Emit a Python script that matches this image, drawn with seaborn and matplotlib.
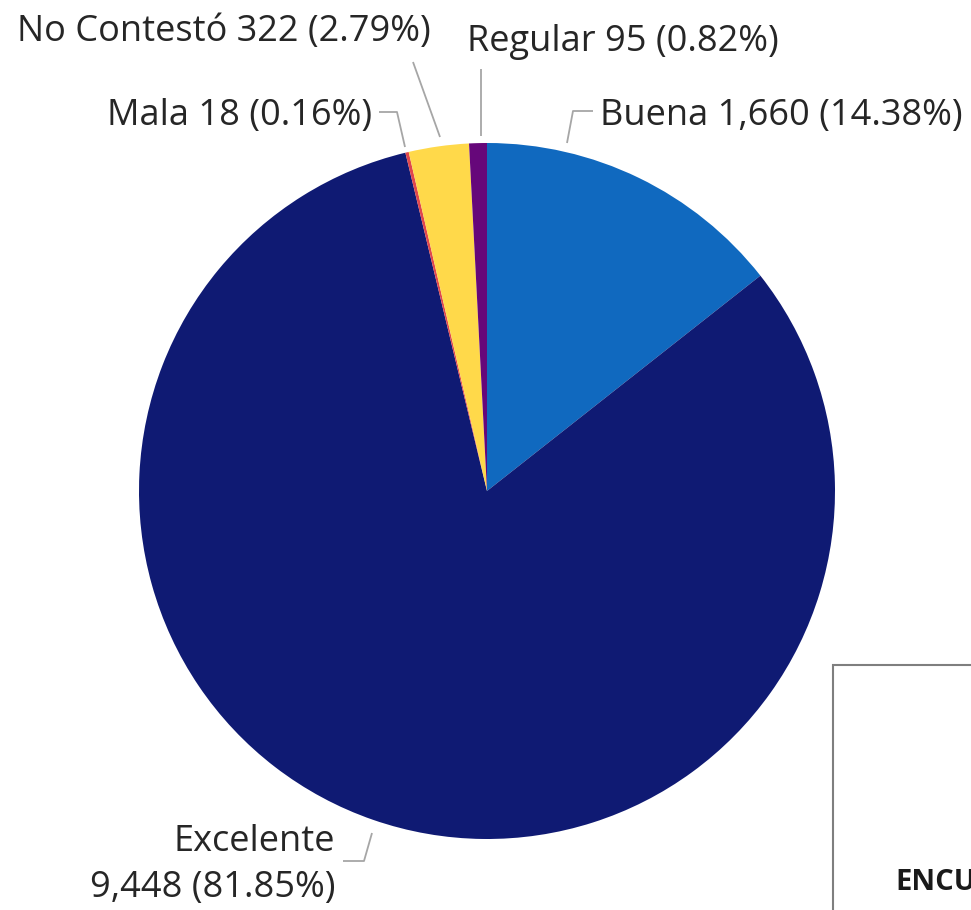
import matplotlib
matplotlib.use('Agg')
import numpy as np
import matplotlib.pyplot as plt
import seaborn as sns
from matplotlib.patches import Rectangle

sns.set_style('white')
plt.rcParams['font.family'] = ['Open Sans', 'DejaVu Sans']

# datos
categorias = ['Buena', 'Excelente', 'Mala', 'No Contestó', 'Regular']
valores = [1660, 9448, 18, 322, 95]
colores = ['#1069BF', '#0F1A73', '#E0474C', '#FFD94A', '#66077A']

total = sum(valores)
pcts = [v / total * 100 for v in valores]

W, H = 971, 910
cx, cy, R = 487, 491, 348   # centro y radio del pastel en px


def px(x, y):
    # px de la imagen -> coordenadas de datos (radio = 1)
    return (x - cx) / R, (cy - y) / R


fig = plt.figure(figsize=(W / 100, H / 100), dpi=100)
ax = fig.add_axes([0, 0, 1, 1])
ax.pie(valores, colors=colores, startangle=90, counterclock=False,
       radius=1, wedgeprops={'linewidth': 0})
ax.set_xlim(px(0, 0)[0], px(W, 0)[0])
ax.set_ylim(px(0, H)[1], px(0, 0)[1])
ax.set_aspect('equal')
ax.axis('off')

# etiquetas: posicion (px), alineacion, linea guia (px)
etiquetas = {
    'Buena': ((600, 116), 'left', [(567, 143), (573, 111), (593, 111)]),
    'Excelente': ((335, 865), 'right', [(372, 833), (364, 861), (343, 861)]),
    'Mala': ((372, 116), 'right', [(405, 147), (397, 112), (379, 112)]),
    'No Contestó': ((431, 32), 'right', [(440, 137), (413, 62)]),
    'Regular': ((467, 42), 'left', [(481, 136), (481, 69)]),
}

for cat, val, pct in zip(categorias, valores, pcts):
    (tx, ty), ha, linea = etiquetas[cat]
    if cat == 'Excelente':
        txt = f'{cat}\n{val:,} ({pct:.2f}%)'
    else:
        txt = f'{cat} {val:,} ({pct:.2f}%)'
    x, y = px(tx, ty)
    ax.text(x, y, txt, ha=ha, va='center', multialignment='right',
            fontsize=26, color='#262626', linespacing=1.4)
    pts = np.array([px(a, b) for a, b in linea])
    ax.plot(pts[:, 0], pts[:, 1], color='#A6A6A6', lw=1.3,
            solid_capstyle='butt')

# recuadro recortado abajo a la derecha
fig.patches.append(Rectangle((833 / W, -0.1), 0.5, (910 - 665) / H + 0.1,
                             transform=fig.transFigure, fill=False,
                             edgecolor='#7F7F7F', lw=1.5))
fig.text(895 / W, 1 - 882 / H, 'ENCU', fontsize=21, fontweight='bold',
         color='#1a1a1a', va='center', ha='left')

plt.savefig('out.png', dpi=100)
